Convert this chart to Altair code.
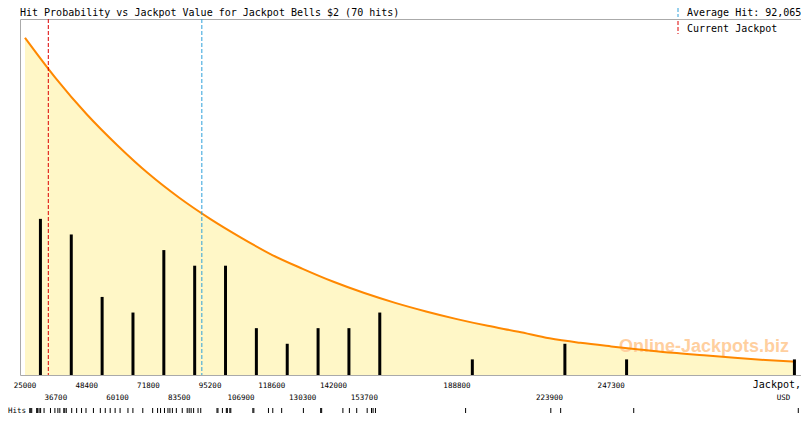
import altair as alt
import numpy as np
import pandas as pd

TITLE = "Hit Probability vs Jackpot Value for Jackpot Bells $2 (70 hits)"
AVERAGE_HIT = 92065
CURRENT_JACKPOT = 33840
X_MIN, X_MAX = 25000, 317400
BIN_STEP = 11700
WATERMARK = "Online-Jackpots.biz"

# individual hit values (USD) read from the rug at the bottom
hits = [
    26800, 27170, 27550, 29420, 29790, 30350, 30920, 32230, 34660, 36340,
    37470, 38220, 39710, 40090, 40650, 42710, 44580, 46450, 48140,
    50950, 53570, 55440, 57310, 59180,
    61060, 64050, 65920, 69670,
    73410, 75280, 76410, 77900, 79210, 79960, 80900, 82400,
    84640, 86510, 87260, 88010, 88950, 90630, 91650,
    97810, 98180, 99870, 101360, 101740, 102680, 103050,
    111410, 111790, 117330,
    118970, 122340,
    130580, 137130, 137510,
    145560, 148030, 150800,
    154770, 156410, 157010, 157910,
    192100,
    224410, 228150,
    255860,
    318270,
]

tick_values = [25000, 36700, 48400, 60100, 71800, 83500, 95200, 106900, 118600,
               130300, 142000, 153700, 165400, 177100, 188800, 200500, 212200,
               223900, 235600, 247300, 259000, 270700, 282400, 294100, 305800]
upper_labels = [25000, 48400, 71800, 95200, 118600, 142000, 188800, 247300]
lower_labels = [36700, 60100, 83500, 106900, 130300, 153700, 223900]

# probability curve (in expected-hits units), read at the tick positions
curve_x = tick_values + [X_MAX]
curve_y = [21.6, 19.0, 16.7, 14.7, 12.9, 11.35, 10.0, 8.8, 7.7, 6.8, 5.97, 5.25,
           4.62, 4.07, 3.58, 3.15, 2.77, 2.35, 2.06, 1.83, 1.62, 1.42, 1.26,
           1.10, 0.96, 0.85]

W, H = 781, 356
MONO = "DejaVu Sans Mono"
GRAY = "#AAAAAA"

edges = np.array(tick_values + [tick_values[-1] + BIN_STEP, tick_values[-1] + 2 * BIN_STEP])
counts, _ = np.histogram(hits, bins=edges)
centers = np.minimum(edges[:-1] + BIN_STEP / 2, X_MAX - 600)
bars_df = pd.DataFrame({"x": centers, "n": counts})
bars_df = bars_df[bars_df.n > 0]

curve_df = pd.DataFrame({"x": curve_x, "p": curve_y})
hits_df = pd.DataFrame({"x": hits})

xs = alt.Scale(domain=[X_MIN, X_MAX], nice=False, zero=False, clamp=True)
ys = alt.Scale(domain=[0, 22.8], nice=False)

area = alt.Chart(curve_df).mark_area(color="#FFF7C7", interpolate="monotone").encode(
    x=alt.X("x:Q", scale=xs, axis=alt.Axis(values=tick_values, labels=False, tickSize=5,
                                           tickColor=GRAY, domainColor=GRAY, grid=False,
                                           title=None)),
    y=alt.Y("p:Q", scale=ys, axis=None),
)

one = pd.DataFrame({"t": [WATERMARK]})
watermark = alt.Chart(one).mark_text(
    align="right", baseline="alphabetic", font="Liberation Sans", fontWeight="bold",
    fontSize=18, color="#FFCF9F"
).encode(x=alt.value(769), y=alt.value(333), text="t:N")

line = alt.Chart(curve_df).mark_line(color="#FF8800", strokeWidth=2, interpolate="monotone").encode(
    x=alt.X("x:Q", scale=xs, axis=None),
    y=alt.Y("p:Q", scale=ys, axis=None),
)

bars = alt.Chart(bars_df).mark_bar(size=3, color="black").encode(
    x=alt.X("x:Q", scale=xs, axis=None),
    y=alt.Y("n:Q", scale=ys, axis=None),
)

cur_rule = alt.Chart(pd.DataFrame({"x": [CURRENT_JACKPOT]})).mark_rule(
    color="#DD0000", strokeDash=[4, 2], strokeWidth=1
).encode(x=alt.X("x:Q", scale=xs, axis=None))

avg_rule = alt.Chart(pd.DataFrame({"x": [AVERAGE_HIT]})).mark_rule(
    color="#2EA0DA", strokeDash=[4, 2], strokeWidth=1
).encode(x=alt.X("x:Q", scale=xs, axis=None))

upper = alt.Chart(pd.DataFrame({"x": upper_labels})).mark_text(
    font=MONO, fontSize=7.5, baseline="alphabetic", align="center", color="black"
).encode(x=alt.X("x:Q", scale=xs, axis=None), y=alt.value(369), text=alt.Text("x:Q", format="d"))

lower = alt.Chart(pd.DataFrame({"x": lower_labels})).mark_text(
    font=MONO, fontSize=7.5, baseline="alphabetic", align="center", color="black"
).encode(x=alt.X("x:Q", scale=xs, axis=None), y=alt.value(381), text=alt.Text("x:Q", format="d"))

unit1 = alt.Chart(pd.DataFrame({"t": ["Jackpot,"]})).mark_text(
    font=MONO, fontSize=10, baseline="alphabetic", align="right", color="black"
).encode(x=alt.value(W), y=alt.value(369), text="t:N")
unit2 = alt.Chart(pd.DataFrame({"t": ["USD"]})).mark_text(
    font=MONO, fontSize=7.5, baseline="alphabetic", align="center", color="black"
).encode(x=alt.value(W - 17.5), y=alt.value(381), text="t:N")

rug = alt.Chart(hits_df).mark_rule(color="black", strokeWidth=1).encode(
    x=alt.X("x:Q", scale=xs, axis=None), y=alt.value(389), y2=alt.value(394)
)
rug_label = alt.Chart(pd.DataFrame({"t": ["Hits"]})).mark_text(
    font=MONO, fontSize=7.5, baseline="alphabetic", align="left", color="black"
).encode(x=alt.value(-12), y=alt.value(394), text="t:N")

title = alt.Chart(pd.DataFrame({"t": [TITLE]})).mark_text(
    font=MONO, fontSize=10, baseline="alphabetic", align="left", color="black"
).encode(x=alt.value(0), y=alt.value(-2.8), text="t:N")

avg_text = alt.Chart(pd.DataFrame({"t": [f"Average Hit: {AVERAGE_HIT:,}"]})).mark_text(
    font=MONO, fontSize=10, baseline="alphabetic", align="left", color="black"
).encode(x=alt.value(667), y=alt.value(-2.8), text="t:N")
avg_key = alt.Chart(pd.DataFrame({"t": ["avg"]})).mark_rule(
    color="#2EA0DA", strokeDash=[4, 2], strokeWidth=1
).encode(x=alt.value(658), y=alt.value(-11), y2=alt.value(-2))

cur_text = alt.Chart(pd.DataFrame({"t": ["Current Jackpot"]})).mark_text(
    font=MONO, fontSize=10, baseline="alphabetic", align="left", color="black"
).encode(x=alt.value(667), y=alt.value(13), text="t:N")
cur_key = alt.Chart(pd.DataFrame({"t": ["cur"]})).mark_rule(
    color="#DD0000", strokeDash=[4, 2], strokeWidth=1
).encode(x=alt.value(658), y=alt.value(2), y2=alt.value(15))

chart = alt.layer(
    area, watermark, line, bars, cur_rule, avg_rule,
    upper, lower, unit1, unit2, rug, rug_label, title,
    avg_text, avg_key, cur_text, cur_key,
).properties(
    width=W, height=H,
    autosize=alt.AutoSizeParams(type="none"),
    padding={"left": 12, "top": 11, "right": 0, "bottom": 39},
    background="white",
).configure_view(stroke=GRAY, strokeWidth=1)

chart.save("out.html", embed_options={"renderer": "svg", "actions": False})
